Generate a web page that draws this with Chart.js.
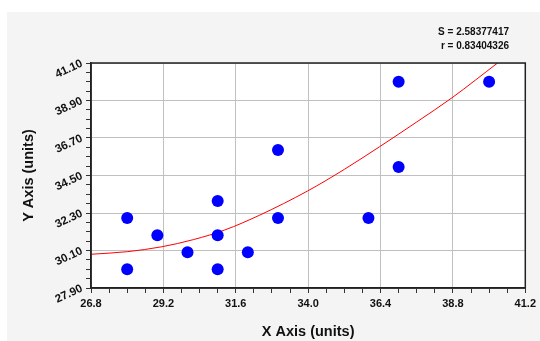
<!DOCTYPE html>
<html>
<head>
<meta charset="utf-8">
<script src="https://cdn.jsdelivr.net/npm/chart.js@4/dist/chart.umd.min.js"></script>
<style>
  html, body { margin: 0; padding: 0; background: #fff; }
  canvas { display: block; }
</style>
</head>
<body>
<canvas id="chart" width="540" height="341"></canvas>
<script>
// observed points
var xValues = [28, 28, 29, 30, 31, 31, 31, 32, 33, 33, 36, 37, 37, 40];
var yValues = [32, 29, 31, 30, 33, 31, 29, 30, 36, 32, 32, 40, 35, 40];

// fitted curve
var fitX = [26.8, 28.0, 29.15, 30.2, 31.23, 32.4, 33.98, 35.2, 36.37, 37.6, 38.77, 40.31];
var fitY = [29.88, 30.03, 30.32, 30.74, 31.30, 32.18, 33.59, 34.86, 36.19, 37.64, 39.06, 41.14];

// axis ranges and stats text
var xRange = [26.8, 41.2];
var yRange = [27.9, 41.1];
var statLines = ["S = 2.58377417", "r = 0.83404326"];

var LABEL_FONT = "'Liberation Sans', Arial, sans-serif";

function toPoints(xs, ys) {
    var pts = [];
    for (var i = 0; i < xs.length; i++) {
        pts.push({x: xs[i], y: ys[i]});
    }
    return pts;
}

var backgroundPlugin = {
    id: 'panelBackground',
    beforeDraw: function (chart) {
        var ctx = chart.ctx;
        var a = chart.chartArea;
        ctx.save();
        ctx.fillStyle = '#ffffff';
        ctx.fillRect(0, 0, chart.width, chart.height);
        ctx.fillStyle = '#f4f4f4';
        ctx.fillRect(7, 12, chart.width - 7, chart.height - 12);
        ctx.fillStyle = '#ffffff';
        ctx.fillRect(a.left, a.top, a.right - a.left, a.bottom - a.top);
        ctx.restore();
    },
    afterDraw: function (chart) {
        var ctx = chart.ctx;
        var a = chart.chartArea;
        ctx.save();
        ctx.strokeStyle = '#222222';
        ctx.lineWidth = 1.5;
        ctx.strokeRect(a.left, a.top, a.right - a.left, a.bottom - a.top);
        // stats text, top right
        ctx.fillStyle = '#111111';
        ctx.font = "bold 10px " + LABEL_FONT;
        ctx.textAlign = 'right';
        ctx.textBaseline = 'alphabetic';
        ctx.fillText(statLines[0], 509, 35);
        ctx.fillText(statLines[1], 509, 49);
        ctx.restore();
    }
};

function gridColor(c) {
    return c.index % 4 === 0 ? '#c0c0c0' : 'rgba(0,0,0,0)';
}

var ctx = document.getElementById('chart').getContext('2d');
var myChart = new Chart(ctx, {
    type: 'scatter',
    data: {
        datasets: [{
            label: 'data',
            data: toPoints(xValues, yValues),
            backgroundColor: '#0000ff',
            borderColor: '#0000ff',
            borderWidth: 0,
            pointRadius: 6
        }, {
            label: 'fit',
            data: toPoints(fitX, fitY),
            showLine: true,
            pointRadius: 0,
            borderColor: '#ff0000',
            borderWidth: 1,
            cubicInterpolationMode: 'monotone'
        }]
    },
    options: {
        responsive: false,
        animation: false,
        devicePixelRatio: 1,
        layout: {padding: {top: 63, right: 13, bottom: 0, left: 0}},
        plugins: {
            legend: {display: false},
            tooltip: {enabled: false}
        },
        scales: {
            x: {
                type: 'linear',
                min: xRange[0],
                max: xRange[1],
                afterFit: function (scale) { scale.height = 53; },
                grid: {color: gridColor, lineWidth: 1, tickColor: '#333333', tickLength: 5},
                border: {color: '#222222', width: 1.5},
                ticks: {
                    stepSize: 0.6,
                    autoSkip: false,
                    maxRotation: 0,
                    padding: 4,
                    color: '#111111',
                    font: {family: LABEL_FONT, size: 11, weight: 'bold'},
                    callback: function (v, i) { return i % 4 === 0 ? v.toFixed(1) : ''; }
                },
                title: {
                    display: true,
                    text: 'X Axis (units)',
                    color: '#111111',
                    font: {family: LABEL_FONT, size: 14.5, weight: 'bold'},
                    padding: {top: 0, bottom: 0}
                }
            },
            y: {
                type: 'linear',
                min: yRange[0],
                max: yRange[1],
                afterFit: function (scale) { scale.width = 91; },
                grid: {color: gridColor, lineWidth: 1, tickColor: '#333333', tickLength: 5},
                border: {color: '#222222', width: 1.5},
                ticks: {
                    stepSize: 0.55,
                    autoSkip: false,
                    minRotation: 25,
                    maxRotation: 25,
                    padding: 4,
                    color: '#111111',
                    font: {family: LABEL_FONT, size: 11.5, weight: 'bold'},
                    callback: function (v, i) { return i % 4 === 0 ? v.toFixed(2) : ''; }
                },
                title: {
                    display: true,
                    text: 'Y Axis (units)',
                    color: '#111111',
                    font: {family: LABEL_FONT, size: 14.5, weight: 'bold'},
                    padding: {top: 20, bottom: 0}
                }
            }
        }
    },
    plugins: [backgroundPlugin]
});
</script>
</body>
</html>
